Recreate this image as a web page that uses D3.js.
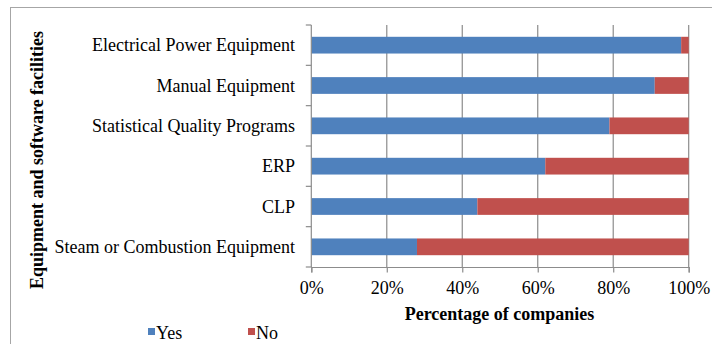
<!DOCTYPE html>
<html>
<head>
<meta charset="utf-8">
<script src="https://cdn.jsdelivr.net/npm/d3@7"></script>
<style>
  html, body { margin: 0; padding: 0; background: #fff; }
  svg { display: block; font-family: "Liberation Serif", "Times New Roman", serif; }
</style>
</head>
<body>
<svg id="chart" width="712" height="344"></svg>
<script>
// Share of companies that have each facility (Yes) vs. not (No)
const categories = [
  "Electrical Power Equipment",
  "Manual Equipment",
  "Statistical Quality Programs",
  "ERP",
  "CLP",
  "Steam or Combustion Equipment"
];
const yesValues = [0.98, 0.91, 0.79, 0.62, 0.44, 0.28];
const noValues  = [0.02, 0.09, 0.21, 0.38, 0.56, 0.72];
const tickValues = [0, 0.2, 0.4, 0.6, 0.8, 1.0];
const seriesNames = ["Yes", "No"];
const seriesColors = ["#4F81BD", "#C0504D"];

const svg = d3.select("#chart");
const W = 712, H = 344;
const plot = { left: 311.3, right: 688.7, top: 25, bottom: 267 };

// Outer frame of the chart area (extends past the right/bottom edges)
svg.append("rect")
  .attr("x", 10.5).attr("y", 7.5)
  .attr("width", W + 20).attr("height", H + 20)
  .attr("fill", "none").attr("stroke", "#a6a6a6").attr("stroke-width", 1);

const x = d3.scaleLinear().domain([0, 1]).range([plot.left, plot.right]);
const y = d3.scaleBand().domain(categories).range([plot.top, plot.bottom])
  .paddingInner(0.585).paddingOuter(0.2925);

// Vertical gridlines
svg.append("g").selectAll("line")
  .data(tickValues.slice(1))
  .join("line")
  .attr("x1", d => x(d)).attr("x2", d => x(d))
  .attr("y1", plot.top).attr("y2", plot.bottom)
  .attr("stroke", "#8c8c8c").attr("stroke-width", 1.2);

// Stacked bars
const stackData = categories.map((c, i) => ({ cat: c, Yes: yesValues[i], No: noValues[i] }));
const stacked = d3.stack().keys(seriesNames)(stackData);
svg.append("g").selectAll("g")
  .data(stacked)
  .join("g")
  .attr("fill", (d, i) => seriesColors[i])
  .selectAll("rect")
  .data(d => d)
  .join("rect")
  .attr("x", d => x(d[0]))
  .attr("width", d => x(d[1]) - x(d[0]))
  .attr("y", d => y(d.data.cat))
  .attr("height", y.bandwidth());

// Category axis (left) with ticks at band boundaries
const boundaries = d3.range(categories.length + 1)
  .map(i => plot.top + i * (plot.bottom - plot.top) / categories.length);
const yAxisG = svg.append("g");
yAxisG.append("line")
  .attr("x1", plot.left).attr("x2", plot.left)
  .attr("y1", plot.top).attr("y2", plot.bottom)
  .attr("stroke", "#8c8c8c").attr("stroke-width", 1.2);
yAxisG.selectAll("line.tick")
  .data(boundaries)
  .join("line").attr("class", "tick")
  .attr("x1", plot.left - 5.5).attr("x2", plot.left)
  .attr("y1", d => d).attr("y2", d => d)
  .attr("stroke", "#8c8c8c").attr("stroke-width", 1.2);
yAxisG.selectAll("text")
  .data(categories)
  .join("text")
  .attr("x", 295)
  .attr("y", d => y(d) + y.bandwidth() / 2)
  .attr("dy", "0.35em")
  .attr("text-anchor", "end")
  .attr("font-size", 18)
  .attr("fill", "#000")
  .text(d => d);

// Value axis (bottom)
const xAxis = d3.axisBottom(x)
  .tickValues(tickValues)
  .tickFormat(d3.format(".0%"))
  .tickSize(5.5)
  .tickPadding(9);
const xAxisG = svg.append("g")
  .attr("transform", `translate(0,${plot.bottom})`)
  .call(xAxis);
xAxisG.select(".domain").attr("stroke", "#8c8c8c").attr("stroke-width", 1.2);
xAxisG.selectAll(".tick line").attr("stroke", "#8c8c8c").attr("stroke-width", 1.2);
xAxisG.selectAll(".tick text")
  .attr("font-family", "Liberation Serif, Times New Roman, serif")
  .attr("font-size", 18).attr("fill", "#000");

// Axis titles
svg.append("text")
  .attr("x", (plot.left + plot.right) / 2 - 0.5)
  .attr("y", 320)
  .attr("text-anchor", "middle")
  .attr("font-size", 18).attr("font-weight", "bold")
  .text("Percentage of companies");

svg.append("text")
  .attr("transform", "translate(43,160) rotate(-90)")
  .attr("text-anchor", "middle")
  .attr("font-size", 18).attr("font-weight", "bold")
  .text("Equipment and software facilities");

// Legend
const legendX = [148, 248];
const legend = svg.append("g");
seriesNames.forEach((name, i) => {
  legend.append("rect")
    .attr("x", legendX[i]).attr("y", 328)
    .attr("width", 7).attr("height", 7)
    .attr("fill", seriesColors[i]);
  legend.append("text")
    .attr("x", legendX[i] + 8).attr("y", 338.5)
    .attr("font-size", 18).attr("fill", "#000")
    .text(name);
});
</script>
</body>
</html>
